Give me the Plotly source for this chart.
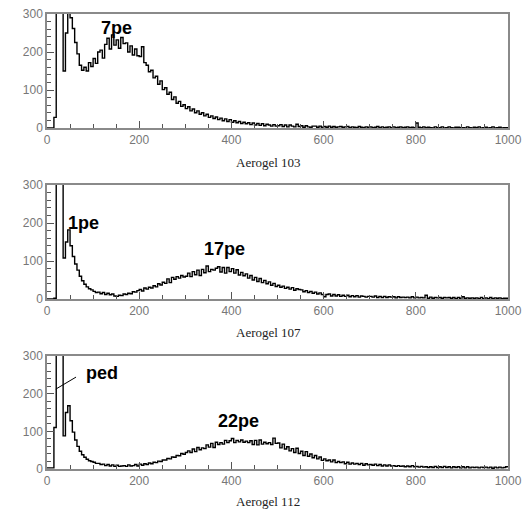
import plotly.graph_objects as go
import numpy as np

BIN_WIDTH = 5
N_BINS = 200

# Aerogel 103 counts per 5-channel bin (0..1000); pedestal bins off scale
counts_103 = [
    0, 0, 0, 28, 5000, 5000, 5000, 150, 250, 305, 290, 262, 225, 195, 165, 152, 160, 150, 172, 162,
    183, 170, 200, 205, 184, 220, 236, 208, 245, 218, 232, 210, 238, 222, 224, 200, 216, 192, 208, 190,
    188, 214, 172, 165, 148, 152, 132, 136, 115, 124, 101, 106, 89, 94, 75, 82, 65, 70, 57, 61,
    51, 56, 45, 50, 40, 45, 36, 40, 32, 36, 28, 32, 25, 29, 22, 26, 19, 24, 17, 22,
    15, 19, 14, 17, 12, 15, 11, 14, 9, 13, 8, 12, 7, 11, 6, 10, 8, 5, 9, 5,
    6, 9, 4, 8, 3, 8, 5, 3, 10, 4, 6, 2, 6, 3, 2, 5, 5, 2, 5, 2,
    4, 2, 5, 2, 4, 2, 3, 4, 2, 3, 4, 1, 3, 2, 1, 4, 2, 1, 3, 2,
    3, 1, 2, 4, 1, 3, 1, 2, 3, 1, 3, 1, 2, 3, 1, 2, 3, 1, 2, 1,
    13, 2, 1, 3, 1, 2, 1, 0, 3, 1, 1, 3, 0, 1, 3, 1, 0, 2, 2, 1,
    1, 0, 3, 1, 0, 2, 1, 3, 0, 1, 2, 0, 1, 3, 0, 1, 2, 0, 1, 1,
]

counts_107 = [
    0, 0, 0, 2, 5000, 5000, 5000, 108, 150, 182, 140, 112, 92, 76, 60, 48, 39, 32, 27, 24,
    20, 17, 18, 14, 17, 12, 15, 11, 13, 8, 7, 10, 9, 13, 12, 15, 14, 19, 18, 22,
    25, 21, 29, 26, 31, 29, 35, 32, 40, 37, 44, 41, 53, 43, 57, 52, 59, 55, 62, 58,
    60, 68, 59, 72, 64, 76, 62, 78, 69, 87, 72, 78, 76, 81, 85, 71, 83, 68, 83, 72,
    80, 68, 77, 63, 70, 61, 66, 55, 62, 50, 57, 46, 54, 43, 49, 40, 45, 36, 41, 33,
    36, 31, 34, 28, 31, 26, 30, 23, 27, 25, 24, 19, 22, 17, 20, 15, 18, 13, 16, 12,
    6, 12, 13, 8, 12, 8, 11, 7, 10, 7, 10, 6, 9, 6, 9, 5, 8, 7, 5, 7,
    7, 5, 8, 4, 7, 4, 7, 4, 6, 5, 6, 3, 6, 4, 5, 4, 5, 3, 6, 3,
    5, 3, 4, 3, 10, 2, 5, 2, 4, 3, 4, 2, 4, 3, 4, 2, 4, 1, 4, 2,
    6, 2, 3, 2, 3, 2, 3, 1, 4, 1, 3, 1, 4, 1, 3, 2, 3, 1, 2, 2,
]

counts_112 = [
    3, 3, 3, 110, 5000, 5000, 5000, 88, 150, 168, 128, 98, 77, 60, 47, 38, 31, 26, 22, 20,
    18, 15, 15, 12, 13, 9, 12, 8, 11, 7, 10, 7, 8, 9, 7, 11, 8, 9, 12, 8,
    13, 10, 14, 12, 16, 14, 18, 17, 21, 20, 24, 24, 28, 27, 32, 31, 36, 35, 41, 39,
    44, 48, 44, 53, 46, 57, 51, 56, 54, 64, 58, 68, 57, 71, 65, 70, 66, 76, 70, 75,
    81, 70, 76, 72, 77, 71, 74, 70, 75, 65, 76, 64, 77, 66, 71, 67, 70, 65, 82, 68,
    69, 56, 66, 53, 59, 48, 54, 44, 55, 41, 47, 36, 46, 34, 40, 30, 36, 27, 32, 23,
    27, 22, 24, 19, 24, 17, 20, 17, 19, 14, 18, 13, 16, 13, 15, 12, 15, 10, 14, 11,
    12, 10, 13, 9, 12, 8, 11, 8, 11, 8, 9, 7, 9, 7, 8, 6, 8, 6, 9, 6,
    7, 5, 7, 5, 6, 4, 6, 4, 7, 4, 6, 4, 7, 4, 6, 3, 6, 4, 6, 3,
    6, 3, 6, 3, 5, 4, 5, 3, 5, 4, 5, 3, 5, 2, 5, 3, 5, 3, 4, 6,
]

panel_titles = ["Aerogel 103", "Aerogel 107", "Aerogel 112"]
peak_labels = [
    [("7pe", 150, 262)],
    [("1pe", 80, 200), ("17pe", 386, 131)],
    [("ped", 120, 255), ("22pe", 415, 127)],
]
x_tick_vals = [0, 200, 400, 600, 800, 1000]
y_tick_vals = [0, 100, 200, 300]

W, H = 525, 509
x_dom = [47 / W, 508 / W]
panels_px = [(14, 128), (185, 299), (356, 469)]
title_px = [162, 332, 501]

edges = np.arange(N_BINS + 1) * BIN_WIDTH

fig = go.Figure()
all_counts = [counts_103, counts_107, counts_112]
for i, counts in enumerate(all_counts):
    ys = list(counts) + [counts[-1]]
    fig.add_trace(go.Scatter(
        x=edges, y=ys, mode="lines", line=dict(shape="hv", color="black", width=1.4),
        xaxis=f"x{i+1}" if i else "x", yaxis=f"y{i+1}" if i else "y",
        showlegend=False, hoverinfo="skip"))

axis_common = dict(showline=True, linecolor="#8a8a8a", linewidth=1.5, mirror=True,
                   showgrid=False, zeroline=False, ticks="inside", tickcolor="#555",
                   automargin=False,
                   tickfont=dict(family="Liberation Sans, Arial", size=12, color="#777"))
layout = dict(width=W, height=H, autosize=False, margin=dict(l=0, r=0, t=0, b=0, pad=0),
              paper_bgcolor="white", plot_bgcolor="white", template="none")
for i, (top, bot) in enumerate(panels_px):
    sfx = str(i + 1) if i else ""
    layout["xaxis" + sfx] = dict(
        domain=x_dom, range=[0, 1000], anchor="y" + sfx,
        tickvals=x_tick_vals, ticklen=7, tickwidth=1,
        minor=dict(dtick=50, ticks="inside", ticklen=4, tickcolor="#555", showgrid=False),
        **axis_common)
    layout["yaxis" + sfx] = dict(
        domain=[1 - bot / H, 1 - top / H], range=[0, 300], anchor="x" + sfx,
        tickvals=y_tick_vals, ticklen=7, tickwidth=1,
        minor=dict(dtick=20, ticks="inside", ticklen=4, tickcolor="#555", showgrid=False),
        **axis_common)
fig.update_layout(**layout)

for i, t in enumerate(panel_titles):
    fig.add_annotation(text=t, x=268 / W, y=1 - title_px[i] / H, xref="paper", yref="paper",
                       showarrow=False, xanchor="center", yanchor="middle",
                       font=dict(family="Liberation Serif, Times New Roman", size=13, color="#222"))

for i, labels in enumerate(peak_labels):
    sfx = str(i + 1) if i else ""
    for txt, lx, ly in labels:
        fig.add_annotation(text=f"<b>{txt}</b>", x=lx, y=ly, xref="x" + sfx, yref="y" + sfx,
                           showarrow=False, xanchor="center", yanchor="middle",
                           font=dict(family="Liberation Sans, Arial", size=18, color="black"))

# pointer line for the pedestal
fig.add_shape(type="line", x0=19, y0=212, x1=63, y1=244, xref="x3", yref="y3",
              line=dict(color="black", width=1))

post = ("document.documentElement.style.margin='0';document.body.style.margin='0';"
        "document.body.style.overflow='hidden';document.documentElement.style.overflow='hidden';")
fig.write_html("out.html", config={"displayModeBar": False}, post_script=post)
